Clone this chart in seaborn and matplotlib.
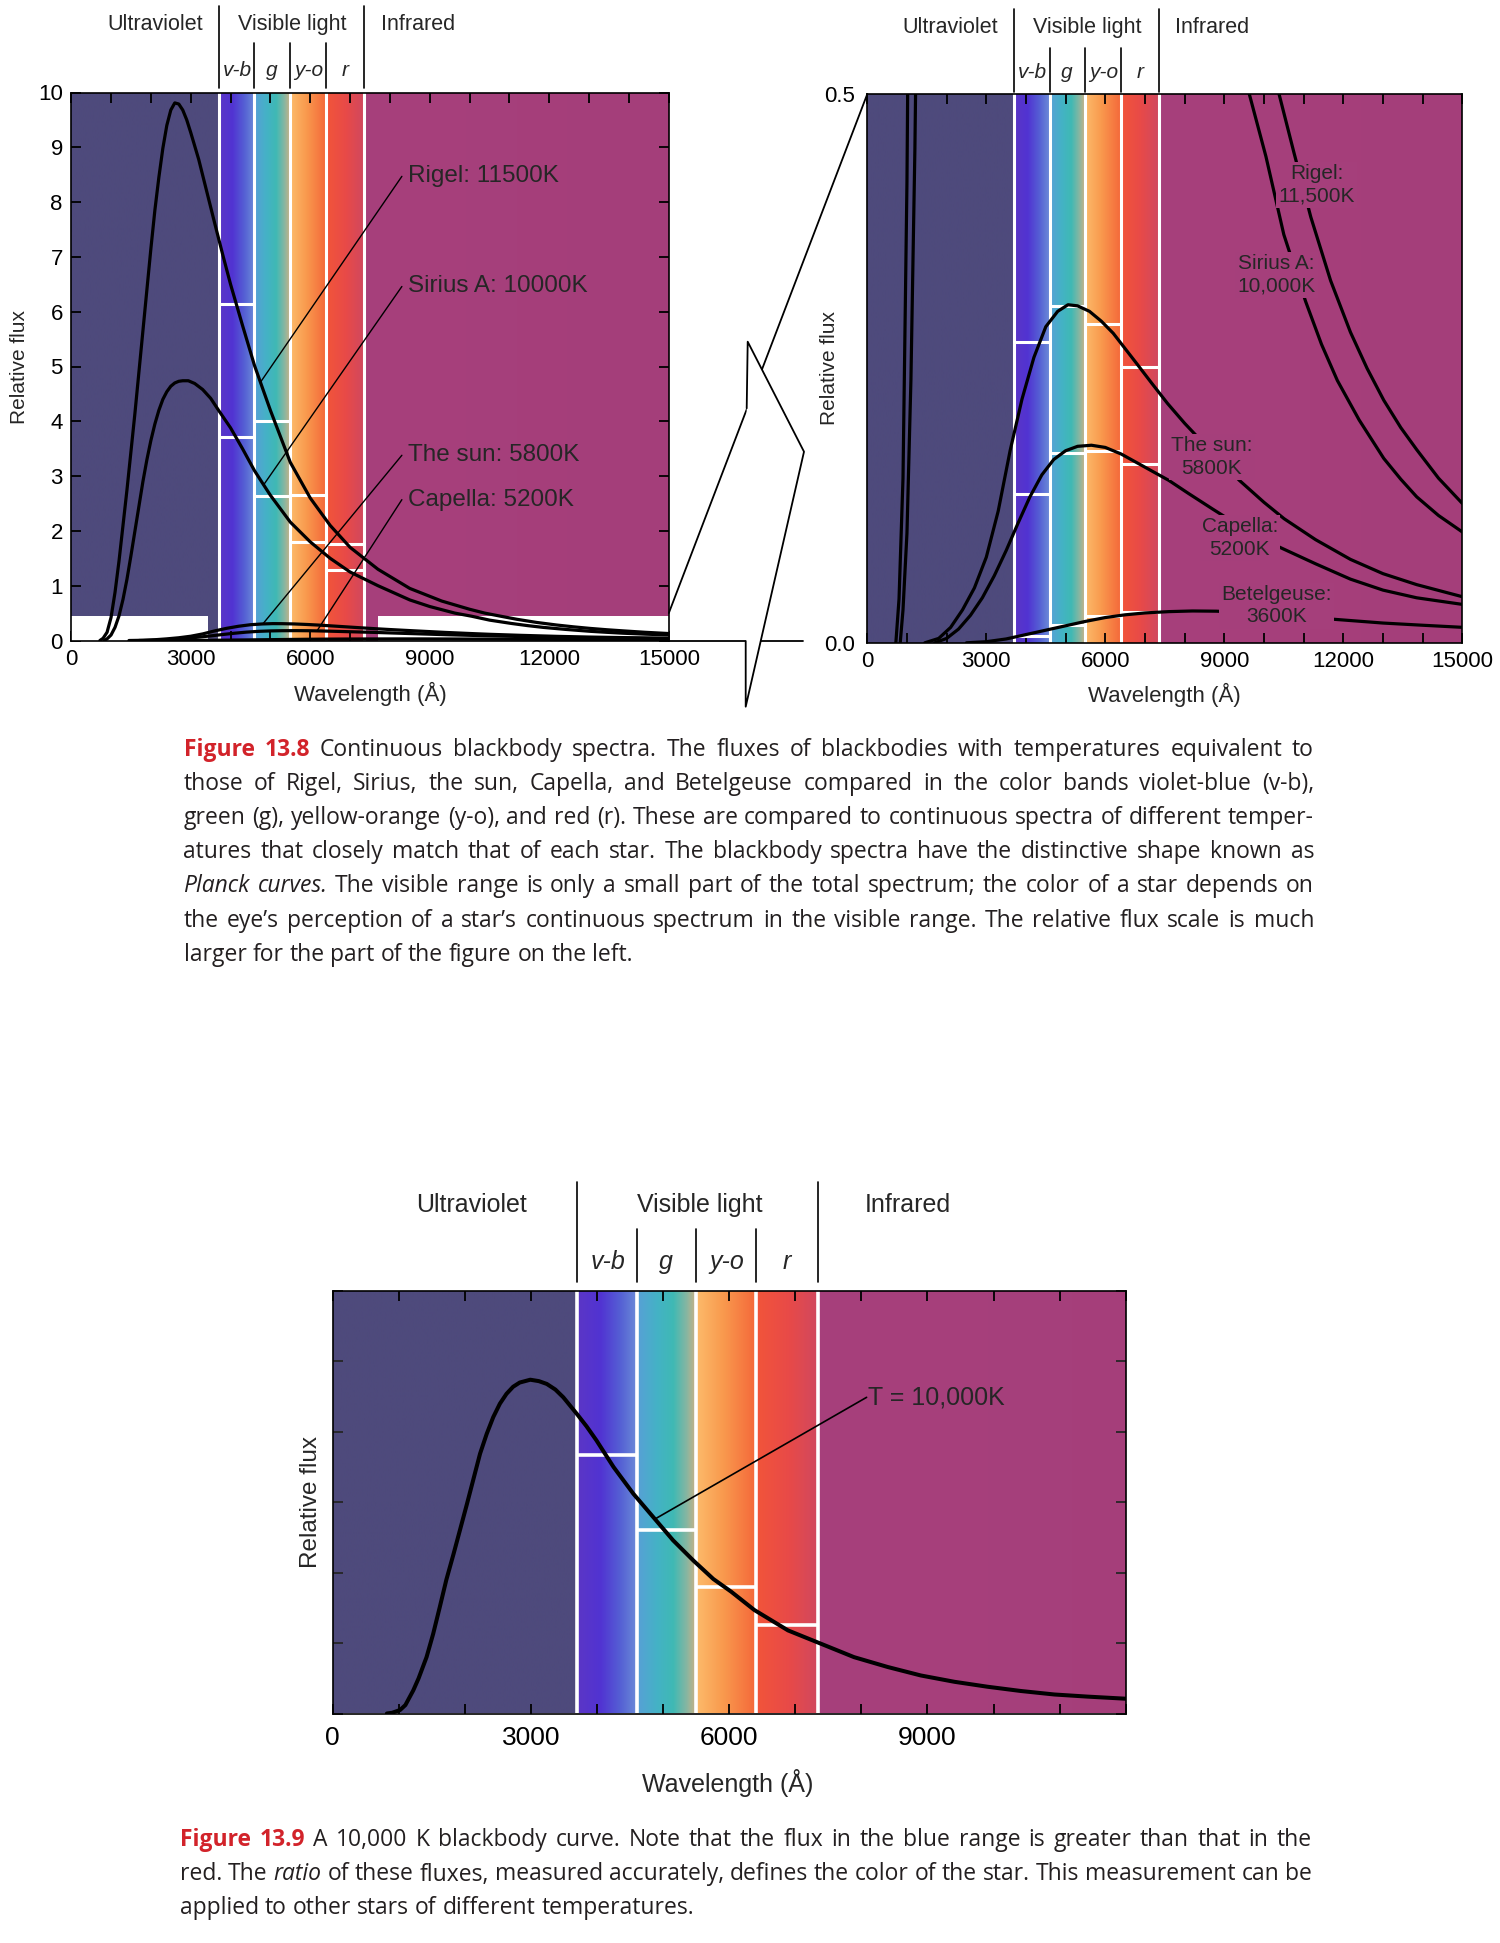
import numpy as np
import matplotlib
matplotlib.use("Agg")
import matplotlib.pyplot as plt
import seaborn as sns
from matplotlib.colors import to_rgb
from matplotlib.lines import Line2D
from matplotlib.patches import Polygon, Rectangle, ConnectionPatch

# ---------------------- data ---------------------------------------------------------

# Figure 13.8 : wavelength (A) and relative flux of each blackbody curve
rigel_wl = [720, 800, 900, 1000, 1100, 1200, 1300, 1400, 1500, 1600, 1700, 1800, 1900, 2000,
            2100, 2200, 2300, 2400, 2500, 2600, 2700, 2800, 2900, 3000, 3200, 3400, 3600, 3800,
            4000, 4300, 4600, 5000, 5500, 6000, 6500, 7000, 7700, 8500, 9300, 10000, 10380,
            10760, 11180, 11680, 12180, 12600, 13020, 13450, 13850, 14400, 15000]
rigel_flux = [0.0, 0.04, 0.15, 0.42, 0.88, 1.45, 2.1, 2.75, 3.45, 4.15, 4.9, 5.65, 6.4, 7.15,
              7.85, 8.45, 8.98, 9.4, 9.68, 9.81, 9.79, 9.68, 9.5, 9.27, 8.78, 8.2, 7.62, 7.05,
              6.5, 5.75, 5.02, 4.2, 3.25, 2.6, 2.1, 1.7, 1.3, 0.95, 0.72, 0.57, 0.5,
              0.446, 0.388, 0.33, 0.283, 0.25, 0.221, 0.196, 0.176, 0.15, 0.127]

sirius_wl = [830, 900, 1000, 1100, 1200, 1300, 1400, 1500, 1600, 1700, 1800, 1900, 2000, 2100,
             2200, 2300, 2400, 2500, 2600, 2700, 2800, 2940, 3100, 3300, 3500, 3700, 4000, 4300,
             4600, 4750, 5000, 5500, 6000, 6500, 7000, 7700, 8500, 9000, 9630, 10050, 10500,
             11050, 11450, 11850, 12400, 13020, 13450, 13850, 14400, 15000]
sirius_flux = [0.0, 0.03, 0.1, 0.24, 0.45, 0.75, 1.12, 1.55, 2.0, 2.45, 2.9, 3.3, 3.65, 3.95,
               4.2, 4.4, 4.54, 4.64, 4.7, 4.73, 4.74, 4.74, 4.69, 4.58, 4.42, 4.2, 3.88, 3.5,
               3.1, 2.93, 2.65, 2.16, 1.8, 1.5, 1.25, 1.0, 0.74, 0.62, 0.5, 0.443, 0.372,
               0.311, 0.272, 0.239, 0.203, 0.168, 0.149, 0.133, 0.116, 0.101]

sun_wl = [1450, 1800, 2100, 2400, 2700, 3000, 3300, 3600, 3900, 4200, 4500, 4800, 5060, 5300,
          5600, 5900, 6200, 6500, 6800, 7160, 7570, 8000, 8600, 9380, 10000, 10510, 11300,
          12180, 13000, 13850, 15000]
sun_flux = [0.0, 0.004, 0.014, 0.03, 0.05, 0.078, 0.12, 0.175, 0.222, 0.26, 0.288, 0.302,
            0.308, 0.307, 0.302, 0.293, 0.282, 0.268, 0.254, 0.237, 0.218, 0.2, 0.177, 0.148,
            0.128, 0.113, 0.094, 0.076, 0.063, 0.053, 0.042]

capella_wl = [1700, 2000, 2300, 2600, 2900, 3200, 3500, 3800, 4100, 4400, 4700, 5000, 5300,
              5650, 6000, 6400, 6800, 7200, 7600, 8100, 8700, 9400, 10400, 11300, 12180, 13000,
              13850, 15000]
capella_flux = [0.0, 0.004, 0.0125, 0.025, 0.041, 0.061, 0.084, 0.109, 0.133, 0.153, 0.167,
                0.175, 0.179, 0.18, 0.178, 0.172, 0.164, 0.156, 0.148, 0.136, 0.122, 0.106,
                0.087, 0.072, 0.058, 0.048, 0.041, 0.035]

betel_wl = [2500, 3000, 3500, 4000, 4500, 5000, 5500, 6000, 6500, 7000, 7600, 8200, 8800, 9400,
            10300, 11200, 12100, 13000, 14000, 15000]
betel_flux = [0.0, 0.001, 0.0035, 0.0075, 0.0115, 0.0155, 0.0195, 0.023, 0.0255, 0.0272,
              0.0284, 0.029, 0.0288, 0.0278, 0.0255, 0.023, 0.0205, 0.018, 0.016, 0.0141]

# colour bands and the band-averaged flux (white bars): v-b, g, y-o, r
band_edges = [3700, 4600, 5500, 6400, 7350]
band_names = ["v-b", "g", "y-o", "r"]
rigel_band = [6.14, 4.0, 2.65, 1.76]
sirius_band = [3.71, 2.63, 1.80, 1.28]
sun_band = [0.274, 0.307, 0.290, 0.251]
capella_band = [0.136, 0.173, 0.175, 0.163]
betel_band = [0.006, 0.016, 0.024, 0.028]

# Figure 13.9 : the 10,000 K curve
t10k_wl = [820, 900, 1020, 1100, 1220, 1300, 1420, 1520, 1620, 1720, 1830, 1930, 2030, 2130,
           2230, 2330, 2430, 2530, 2630, 2730, 2830, 2990, 3120, 3240, 3370, 3490, 3690, 3840,
           3990, 4250, 4550, 4850, 5150, 5460, 5760, 6030, 6380, 6890, 7390, 7890, 8400, 8900,
           9410, 9910, 10410, 10920, 11420, 12000]
t10k_flux = [0.0, 0.01, 0.05, 0.12, 0.33, 0.5, 0.8, 1.13, 1.51, 1.9, 2.27, 2.62, 2.97, 3.33,
             3.69, 3.97, 4.21, 4.4, 4.54, 4.64, 4.7, 4.74, 4.72, 4.68, 4.6, 4.49, 4.26, 4.08,
             3.88, 3.5, 3.12, 2.79, 2.46, 2.17, 1.91, 1.73, 1.47, 1.18, 0.99, 0.8, 0.66, 0.54,
             0.45, 0.38, 0.32, 0.27, 0.24, 0.21]
t10k_band = [3.67, 2.61, 1.80, 1.25]

region_names = ["Ultraviolet", "Visible light", "Infrared"]

left_names = ["Rigel: 11500K", "Sirius A: 10000K", "The sun: 5800K", "Capella: 5200K"]
right_names = ["Rigel:\n11,500K", "Sirius A:\n10,000K", "The sun:\n5800K", "Capella:\n5200K",
               "Betelgeuse:\n3600K"]

cap_13_8 = [
    "*Figure* *13.8* Continuous blackbody spectra. The fluxes of blackbodies with temperatures equivalent to",
    "those of Rigel, Sirius, the sun, Capella, and Betelgeuse compared in the color bands violet-blue (v-b),",
    "green (g), yellow-orange (y-o), and red (r). These are compared to continuous spectra of different temper-",
    "atures that closely match that of each star. The blackbody spectra have the distinctive shape known as",
    "_Planck_ _curves._ The visible range is only a small part of the total spectrum; the color of a star depends on",
    "the eye\u2019s perception of a star\u2019s continuous spectrum in the visible range. The relative flux scale is much",
    "larger for the part of the figure on the left.",
]
cap_13_9 = [
    "*Figure* *13.9* A 10,000 K blackbody curve. Note that the flux in the blue range is greater than that in the",
    "red. The _ratio_ of these fluxes, measured accurately, defines the color of the star. This measurement can be",
    "applied to other stars of different temperatures.",
]

# ---------------------- styling -----------------------------------------------------

W, H = 1500, 1943
spec_pos = [0, 3700, 3710, 4050, 4350, 4600, 4610, 4900, 5150, 5350, 5500, 5510, 5900, 6400,
            6410, 6900, 7350, 7360, 15000]
spec_col = ["#4e4a7c", "#4e4a7c", "#5b36c6", "#5133d2", "#5560d4", "#6b8bd8", "#57a0d6",
            "#44b2c6", "#3fb9b4", "#86b6a2", "#cdb184", "#fcba6a", "#f99a4e", "#f4683a",
            "#f2553a", "#e84a48", "#d0485f", "#a7407c", "#a43e7a"]
IR = "#a53f7b"

sns.set_theme(style="ticks")
plt.rcParams["font.family"] = ["Liberation Sans", "DejaVu Sans"]
plt.rcParams["axes.edgecolor"] = "black"
plt.rcParams["axes.linewidth"] = 1.2

fig = plt.figure(figsize=(W / 100, H / 100), dpi=100)
fig.patch.set_facecolor("white")


def axes_px(l, t, r, b):
    return fig.add_axes([l / W, 1 - b / H, (r - l) / W, (b - t) / H])


def fxy(x, y):
    return x / W, 1 - y / H


def background(ax, xmax, ymax):
    grid = np.linspace(0, xmax, 2000)
    cols = np.array([to_rgb(c) for c in spec_col])
    rgb = np.stack([np.interp(grid, spec_pos, cols[:, k]) for k in range(3)], axis=-1)
    ax.imshow(rgb[None, :, :], extent=[0, xmax, 0, ymax], aspect="auto", zorder=0,
              interpolation="bilinear")


def bands(ax, bars, lw):
    for b in band_edges:
        ax.axvline(b, color="white", lw=lw, zorder=2)
    for vals in bars:
        ax.hlines(vals, band_edges[:-1], band_edges[1:], color="white", lw=lw, zorder=2)


def curve(ax, wl, flux, lw):
    sns.lineplot(x=wl, y=flux, ax=ax, color="black", linewidth=lw, zorder=4,
                 estimator=None, sort=False)


def header(ax, fs, fs_sub, y_text, y_sub, y_long, y_short, y_low):
    tr = ax.get_xaxis_transform()
    for b in [band_edges[0], band_edges[-1]]:
        ax.plot([b, b], [y_low, y_long], transform=tr, color="black", lw=1.2, clip_on=False)
    for b in band_edges[1:-1]:
        ax.plot([b, b], [y_low, y_short], transform=tr, color="black", lw=1.2, clip_on=False)
    for name, x in zip(region_names, [2100, 5550, 8700]):
        ax.text(x, y_text, name, transform=tr, ha="center", va="center", fontsize=fs)
    for name, x in zip(band_names, [4170, 5040, 5970, 6870]):
        ax.text(x, y_sub, name, transform=tr, ha="center", va="center", fontsize=fs_sub,
                style="italic")


def xticks(ax, xmax, label_max, size, pad):
    ticks = np.arange(0, xmax + 1, 1000)
    ax.set_xticks(ticks)
    ax.set_xticklabels([str(t) if t % 3000 == 0 and t <= label_max else "" for t in ticks])
    ax.tick_params(axis="x", direction="in", top=True, bottom=True, length=7, width=1.3,
                   labelsize=size, pad=pad, colors="black")


stars = [(rigel_wl, rigel_flux), (sirius_wl, sirius_flux), (sun_wl, sun_flux),
         (capella_wl, capella_flux), (betel_wl, betel_flux)]

# ---------------------- Figure 13.8 left ---------------------------------------------
ax1 = axes_px(71.2, 92.5, 668.8, 640.5)
background(ax1, 15000, 10)
ax1.add_patch(Rectangle((0, 0), 3430, 0.45, facecolor="white", edgecolor="none", zorder=1))
ax1.add_patch(Rectangle((7700, 0), 7300, 0.45, facecolor="white", edgecolor="none", zorder=1))
bands(ax1, [rigel_band, sirius_band], 2.2)
for wl, fl in stars:
    curve(ax1, wl, fl, 2.3)
ax1.set_xlim(0, 15000)
ax1.set_ylim(0, 10)
xticks(ax1, 15000, 15000, 16, 6)
ax1.set_yticks(range(11))
ax1.tick_params(axis="y", direction="in", left=True, right=True, length=7, width=1.3,
                labelsize=16, pad=6, colors="black")
ax1.set_xlabel("Wavelength (\u00c5)", fontsize=16)
ax1.set_ylabel("Relative flux", fontsize=15)
ax1.xaxis.set_label_coords(0.5, -0.075)
ax1.yaxis.set_label_coords(-0.07, 0.5)
header(ax1, 15.5, 15, 1.124, 1.041, 1.158, 1.09, 1.008)

left_text_y = [8.47, 6.46, 3.38, 2.57]
left_tip_x = [4750, 4830, 4810, 6170]
for name, ty, tx, (wl, fl) in zip(left_names, left_text_y, left_tip_x, stars):
    ax1.plot([8300, tx], [ty, np.interp(tx, wl, fl)], color="black", lw=1.0, zorder=5)
    ax1.text(8460, ty, name, fontsize=17.5, ha="left", va="center", zorder=6)

# ---------------------- Figure 13.8 right --------------------------------------------
ax2 = axes_px(867.3, 94, 1462.3, 642.8)
background(ax2, 15000, 0.5)
bands(ax2, [sun_band, capella_band, betel_band], 2.2)
for wl, fl in stars:
    curve(ax2, wl, fl, 2.3)
ax2.set_xlim(0, 15000)
ax2.set_ylim(0, 0.5)
xticks(ax2, 15000, 15000, 16, 6)
ax2.set_yticks([0, 0.5])
ax2.set_yticklabels(["0.0", "0.5"])
ax2.tick_params(axis="y", length=0, labelsize=16, pad=9, colors="black")
ax2.set_xlabel("Wavelength (\u00c5)", fontsize=16)
ax2.set_ylabel("Relative flux", fontsize=15)
ax2.xaxis.set_label_coords(0.5, -0.073)
ax2.yaxis.set_label_coords(-0.048, 0.5)
header(ax2, 15.5, 15, 1.122, 1.039, 1.155, 1.083, 1.004)

right_xy = [(11330, 0.417), (10320, 0.335), (8682, 0.169), (9395, 0.0955), (10320, 0.0339)]
for name, (x, y) in zip(right_names, right_xy):
    ax2.text(x, y, name, fontsize=15, ha="center", va="center", linespacing=1.25, zorder=6,
             bbox=dict(facecolor=IR, edgecolor="none", pad=1.5))

# zoom connector between the two panels
con = ConnectionPatch(xyA=(15000, 0.5), coordsA=ax1.transData, xyB=(0, 0.5),
                      coordsB=ax2.transData, color="black", lw=1.3, zorder=3)
fig.add_artist(con)
fig.add_artist(Line2D(*zip(fxy(668.8, 641), fxy(803, 641)), transform=fig.transFigure,
                      color="black", lw=1.3, zorder=3))
arrow_px = [(746.7, 408.3), (747.7, 341.7), (804, 451.7), (745.7, 706.7), (745.7, 641)]
fig.add_artist(Polygon([fxy(*p) for p in arrow_px], closed=True, transform=fig.transFigure,
                       facecolor="white", edgecolor="none", zorder=6))
fig.add_artist(Line2D([fxy(*p)[0] for p in arrow_px], [fxy(*p)[1] for p in arrow_px],
                      transform=fig.transFigure, color="black", lw=1.3, zorder=7))

# ---------------------- Figure 13.9 --------------------------------------------------
ax3 = axes_px(332.7, 1291, 1125.7, 1713.5)
background(ax3, 12000, 6)
bands(ax3, [t10k_band], 2.6)
curve(ax3, t10k_wl, t10k_flux, 2.9)
ax3.set_xlim(0, 12000)
ax3.set_ylim(0, 6)
xticks(ax3, 12000, 9000, 19, 9)
ax3.set_yticks(range(7))
ax3.set_yticklabels([])
ax3.tick_params(axis="y", direction="in", left=True, right=True, length=7, width=1.3)
ax3.set_xlabel("Wavelength (\u00c5)", fontsize=18)
ax3.set_ylabel("Relative flux", fontsize=17.5)
ax3.xaxis.set_label_coords(0.498, -0.131)
ax3.yaxis.set_label_coords(-0.014, 0.5)
header(ax3, 18, 18, 1.203, 1.068, 1.259, 1.147, 1.021)
ax3.plot([8079, 4876], [4.49, np.interp(4876, t10k_wl, t10k_flux)], color="black", lw=1.2,
         zorder=5)
ax3.text(8100, 4.49, "T = 10,000K", fontsize=18, ha="left", va="center", zorder=6)

# ---------------------- captions ------------------------------------------------------
cap_font = ["Open Sans", "DejaVu Sans"]
renderer = fig.canvas.get_renderer()


def caption(lines, x0, x1, baselines, size):
    for i, (line, yb) in enumerate(zip(lines, baselines)):
        arts = []
        for w in line.split(" "):
            kw = dict(fontsize=size, family=cap_font, color="#231f20")
            if w.startswith("*"):
                w = w.strip("*")
                kw.update(color="#d2232a", weight="bold")
            elif w.startswith("_"):
                w = w.strip("_")
                kw.update(style="italic")
            arts.append(fig.text(0, 1 - yb / H, w, ha="left", va="baseline", **kw))
        widths = [t.get_window_extent(renderer).width for t in arts]
        natural = 0.26 * size * 100 / 72
        if i == len(lines) - 1:
            gap = natural
        else:
            gap = max((x1 - x0 - sum(widths)) / (len(arts) - 1), 0.12 * size)
        x = x0
        for t, wd in zip(arts, widths):
            t.set_x(x / W)
            x += wd + gap


caption(cap_13_8, 183.5, 1314, [756, 790, 824.5, 858.5, 892.5, 927, 961], 16.5)
caption(cap_13_9, 180, 1312, [1846, 1880.5, 1914.5], 16.5)

fig.savefig("out.png", dpi=100)
